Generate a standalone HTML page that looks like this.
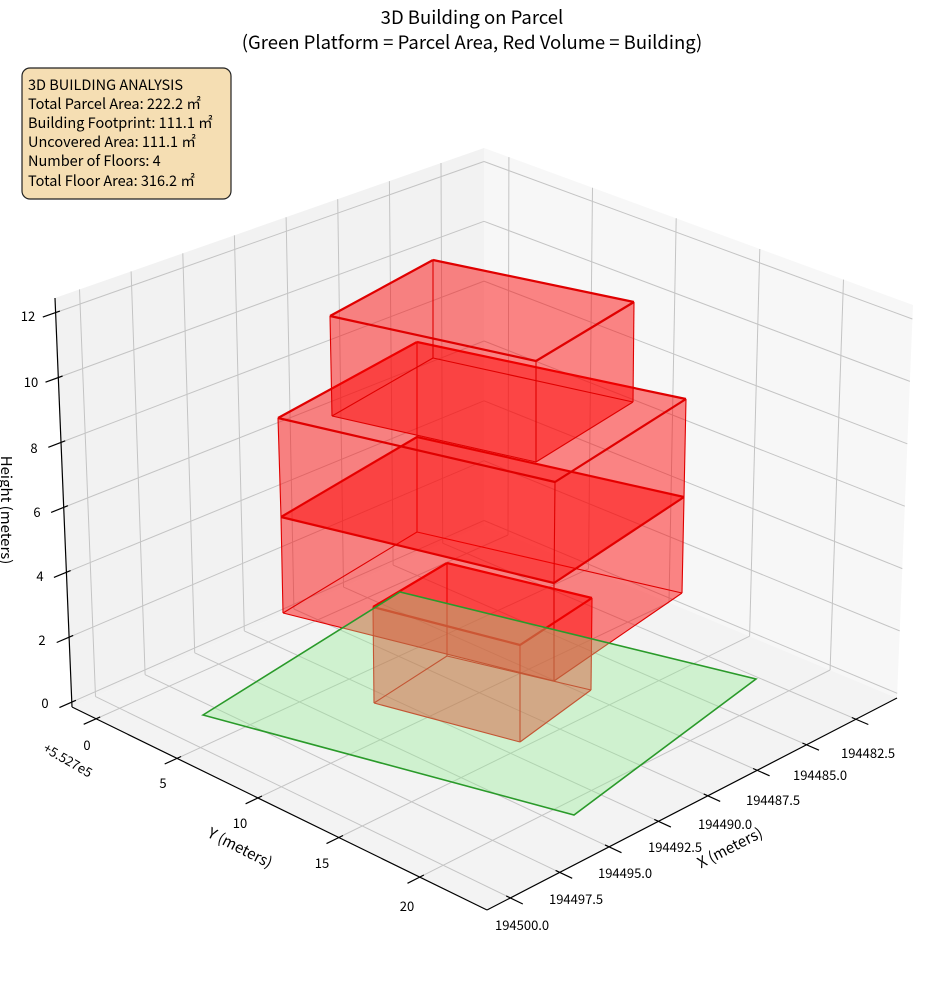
<!DOCTYPE html>
<html><head><meta charset="utf-8">
<style>
html,body{margin:0;padding:0;background:#fff;}
svg{display:block;}
text{font-family:"Noto Sans CJK JP","Liberation Sans",sans-serif;fill:#000;}
</style></head>
<body>
<svg id="s" width="944" height="992" viewBox="0 0 944 992" xmlns="http://www.w3.org/2000/svg">
<rect width="944" height="992" fill="#fff"/>
<g id="panes"></g>
<g id="grid" stroke="#c4c4c4" stroke-width="1" fill="none"></g>
<g id="boxes"></g>
<polygon points="203,715 400,592 756,679 574,815" fill="#90ee90" fill-opacity="0.36" stroke="#2a9a2a" stroke-width="1.6"/>
<g id="axes" stroke="#000" stroke-width="1.2" fill="none"></g>

<text x="472" y="24" font-size="18.5" text-anchor="middle">3D Building on Parcel</text>
<text x="472" y="49" font-size="18.5" text-anchor="middle">(Green Platform = Parcel Area, Red Volume = Building)</text>

<rect x="22" y="68" width="209" height="131" rx="8" fill="#f5deb3" stroke="#222" stroke-width="1.2"/>
<g font-size="14.5">
<text x="28" y="90">3D BUILDING ANALYSIS</text>
<text x="28" y="109">Total Parcel Area: 222.2 ㎡</text>
<text x="28" y="128">Building Footprint: 111.1 ㎡</text>
<text x="28" y="147">Uncovered Area: 111.1 ㎡</text>
<text x="28" y="166">Number of Floors: 4</text>
<text x="28" y="186">Total Floor Area: 316.2 ㎡</text>
</g>

<g font-size="13" text-anchor="middle">
<text x="28" y="321">12</text>
<text x="31" y="387">10</text>
<text x="34" y="453">8</text>
<text x="37" y="517">6</text>
<text x="40" y="581">4</text>
<text x="42" y="645">2</text>
<text x="45" y="708">0</text>
<text x="87" y="750">0</text>
<text x="163" y="788">5</text>
<text x="240" y="828">10</text>
<text x="322" y="868">15</text>
<text x="407" y="911">20</text>
</g>
<text x="68" y="765" font-size="13" text-anchor="middle" transform="rotate(30 68 760)">+5.527e5</text>
<g font-size="13">
<text x="841" y="758">194482.5</text>
<text x="793" y="780">194485.0</text>
<text x="746" y="805">194487.5</text>
<text x="698" y="829">194490.0</text>
<text x="648" y="852">194492.5</text>
<text x="598" y="878">194495.0</text>
<text x="549" y="904">194497.5</text>
<text x="495" y="930">194500.0</text>
</g>
<text x="240" y="853" font-size="15" text-anchor="middle" transform="rotate(27 240 848)">Y (meters)</text>
<text x="730" y="853" font-size="15" text-anchor="middle" transform="rotate(-27 730 848)">X (meters)</text>
<text x="1" y="510" font-size="15" text-anchor="middle" transform="rotate(90 1 510)">Height (meters)</text>
</svg>
<script>
var NS="http://www.w3.org/2000/svg";
var F=[[72,707],[487,910],[897,698],[484,525]];
var T=[[55,298],[487,475],[913,305],[484,148]];
function bil(C,s,t){return [(1-s)*(1-t)*C[0][0]+s*(1-t)*C[1][0]+s*t*C[2][0]+(1-s)*t*C[3][0],
(1-s)*(1-t)*C[0][1]+s*(1-t)*C[1][1]+s*t*C[2][1]+(1-s)*t*C[3][1]];}
function P(s,t,z){var a=bil(F,s,t),b=bil(T,s,t);return [a[0]+z*(b[0]-a[0]),a[1]+z*(b[1]-a[1])];}
function sy(y){return 0.058+0.039*y;}
function tx(x){return 0.057+(194500-x)*0.04816;}
function zn(z){return (z+0.15)/12.6;}
function el(p,tag,at){var e=document.createElementNS(NS,tag);for(var k in at)e.setAttribute(k,at[k]);p.appendChild(e);return e;}
function line(g,a,b){el(g,"line",{x1:a[0].toFixed(1),y1:a[1].toFixed(1),x2:b[0].toFixed(1),y2:b[1].toFixed(1)});}
function poly(g,pts,at){at.points=pts.map(function(p){return p[0]+","+p[1]}).join(" ");el(g,"polygon",at);}
var pn=document.getElementById("panes");
poly(pn,[P(0,0,0),P(0,1,0),P(0,1,1),P(0,0,1)],{fill:"#f2f2f2"});
poly(pn,[P(0,1,0),P(1,1,0),P(1,1,1),P(0,1,1)],{fill:"#f7f7f7"});
poly(pn,[P(0,0,0),P(1,0,0),P(1,1,0),P(0,1,0)],{fill:"#f3f3f3"});
var g=document.getElementById("grid");
var XS=[194482.5,194485,194487.5,194490,194492.5,194495,194497.5,194500],YS=[0,5,10,15,20],ZS=[0,2,4,6,8,10,12];
ZS.forEach(function(z){var h=zn(z);line(g,P(0,0,h),P(0,1,h));line(g,P(0,1,h),P(1,1,h));});
XS.forEach(function(x){var t=tx(x);line(g,P(0,t,0),P(0,t,1));line(g,P(0,t,0),P(1,t,0));});
YS.forEach(function(y){var s=sy(y);line(g,P(s,1,0),P(s,1,1));line(g,P(s,0,0),P(s,1,0));});
var bx=document.getElementById("boxes");
var boxes=[
 {t:[[373,607],[520,645],[592,598],[447,563]],b:[[374,703],[520,742],[591,690],[447,656]]},
 {t:[[281,517],[554,583],[684,497],[417,437]],b:[[283,613],[554,681],[682,593],[417,532]]},
 {t:[[278,418],[555,482],[686,399],[417,342]],b:[[281,517],[554,583],[684,497],[417,437]]},
 {t:[[330,316],[536,361],[634,302],[433,260]],b:[[332,416],[536,462],[633,402],[433,358]]}
];
boxes.forEach(function(B){
 var fa={fill:"#ff0000","fill-opacity":"0.27",stroke:"none"};
 poly(bx,B.b,fa);
 for(var i=0;i<4;i++){var j=(i+1)%4;poly(bx,[B.b[i],B.b[j],B.t[j],B.t[i]],fa);}
 poly(bx,B.t,fa);
 var ge=el(bx,"g",{stroke:"#e00000","stroke-width":"1.1",fill:"none"});
 for(var i=0;i<4;i++){var j=(i+1)%4;line(ge,B.b[i],B.b[j]);line(ge,B.b[i],B.t[i]);}
 var gt=el(bx,"g",{stroke:"#e00000","stroke-width":"2.2",fill:"none"});
 for(var i=0;i<4;i++){var j=(i+1)%4;line(gt,B.t[i],B.t[j]);}
});
var ax=document.getElementById("axes");
line(ax,P(0,0,0),P(0,0,1));line(ax,P(0,0,0),P(1,0,0));line(ax,P(1,0,0),P(1,1,0));
ZS.forEach(function(z){var h=zn(z);line(ax,P(0,-0.03,h),P(0,0.01,h));});
YS.forEach(function(y){var s=sy(y);line(ax,P(s,-0.03,0),P(s,0.01,0));});
XS.forEach(function(x){var t=tx(x);line(ax,P(1.03,t,0),P(0.99,t,0));});
</script>
</body></html>
